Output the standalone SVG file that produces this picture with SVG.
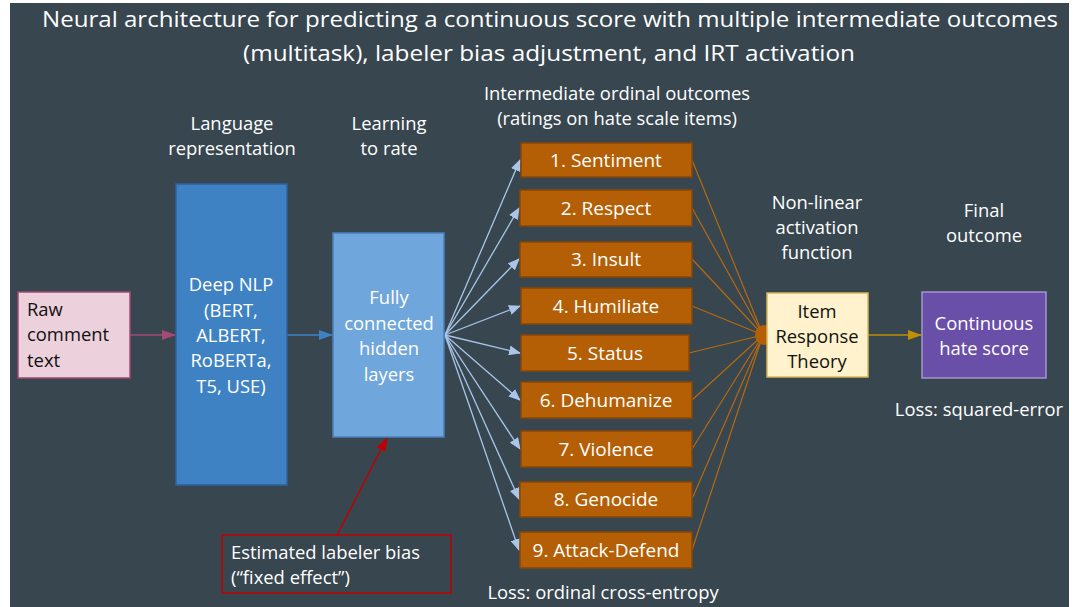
<svg xmlns="http://www.w3.org/2000/svg" width="1078" height="607" viewBox="0 0 1078 607">
<style>
text{font-family:"Open Sans","Liberation Sans",sans-serif;font-size:18.4px;fill:#ffffff}
.c{text-anchor:middle}
.dk{fill:#111111}
.title{font-size:22.5px}
.bl{font-size:19px}
.ob{fill:#b45f06;stroke:#8a4604;stroke-width:1.5}
.fan{stroke:#a9c6ea;stroke-width:1.3;fill:none}
.org{stroke:#b8690e;stroke-width:1.2;fill:none}
</style>
<defs>
<marker id="aBlueL" markerWidth="12" markerHeight="10" refX="11" refY="5" orient="auto" markerUnits="userSpaceOnUse"><path d="M0,0 L12,5 L0,10 Z" fill="#a9c6ea"/></marker>
<marker id="aPink" markerWidth="14" markerHeight="10" refX="13" refY="5" orient="auto" markerUnits="userSpaceOnUse"><path d="M0,0 L14,5 L0,10 Z" fill="#a44a74"/></marker>
<marker id="aBlue" markerWidth="14" markerHeight="10" refX="13" refY="5" orient="auto" markerUnits="userSpaceOnUse"><path d="M0,0 L14,5 L0,10 Z" fill="#3f82c4"/></marker>
<marker id="aGold" markerWidth="14" markerHeight="10" refX="13" refY="5" orient="auto" markerUnits="userSpaceOnUse"><path d="M0,0 L14,5 L0,10 Z" fill="#bf9000"/></marker>
<marker id="aRed" markerWidth="14" markerHeight="10" refX="13" refY="5" orient="auto" markerUnits="userSpaceOnUse"><path d="M0,0 L14,5 L0,10 Z" fill="#c00000"/></marker>
</defs>
<rect x="0" y="0" width="1078" height="607" fill="#ffffff"/>
<rect x="10" y="3" width="1059" height="604" fill="#37464f"/>

<g id="title">
<text class="c title" x="550" y="27" textLength="1016" lengthAdjust="spacingAndGlyphs">Neural architecture for predicting a continuous score with multiple intermediate outcomes</text>
<text class="c title" x="549" y="61" textLength="612" lengthAdjust="spacingAndGlyphs">(multitask), labeler bias adjustment, and IRT activation</text>
</g>

<g id="headers">
<text class="c" x="232" y="130">Language</text>
<text class="c" x="232" y="155">representation</text>
<text class="c" x="389" y="130">Learning</text>
<text class="c" x="389" y="155">to rate</text>
<text class="c" x="617" y="100">Intermediate ordinal outcomes</text>
<text class="c" x="617" y="125">(ratings on hate scale items)</text>
<text class="c" x="817" y="209">Non-linear</text>
<text class="c" x="817" y="234">activation</text>
<text class="c" x="817" y="259">function</text>
<text class="c" x="984" y="217">Final</text>
<text class="c" x="984" y="242">outcome</text>
<text class="c" x="979" y="416">Loss: squared-error</text>
<text class="c" x="603" y="599">Loss: ordinal cross-entropy</text>
</g>

<g id="connectors">
<line x1="130" y1="335" x2="175" y2="335" stroke="#a44a74" stroke-width="1.5" marker-end="url(#aPink)"/>
<line x1="287" y1="335" x2="332" y2="335" stroke="#3f82c4" stroke-width="1.5" marker-end="url(#aBlue)"/>
<line x1="337" y1="535" x2="387" y2="438" stroke="#c00000" stroke-width="1.5" marker-end="url(#aRed)"/>
<line class="fan" x1="445" y1="335" x2="520" y2="160" marker-end="url(#aBlueL)"/>
<line class="fan" x1="445" y1="335" x2="519" y2="208" marker-end="url(#aBlueL)"/>
<line class="fan" x1="445" y1="335" x2="519" y2="259" marker-end="url(#aBlueL)"/>
<line class="fan" x1="445" y1="335" x2="520" y2="306" marker-end="url(#aBlueL)"/>
<line class="fan" x1="445" y1="335" x2="520" y2="353" marker-end="url(#aBlueL)"/>
<line class="fan" x1="445" y1="335" x2="520" y2="400" marker-end="url(#aBlueL)"/>
<line class="fan" x1="445" y1="335" x2="520" y2="449" marker-end="url(#aBlueL)"/>
<line class="fan" x1="445" y1="335" x2="519" y2="499" marker-end="url(#aBlueL)"/>
<line class="fan" x1="445" y1="335" x2="519" y2="550" marker-end="url(#aBlueL)"/>
<line class="org" x1="692" y1="160" x2="763" y2="335"/>
<line class="org" x1="692" y1="208" x2="763" y2="335"/>
<line class="org" x1="692" y1="259" x2="763" y2="335"/>
<line class="org" x1="692" y1="306" x2="763" y2="335"/>
<line class="org" x1="689" y1="353" x2="763" y2="335"/>
<line class="org" x1="692" y1="400" x2="763" y2="335"/>
<line class="org" x1="692" y1="449" x2="763" y2="335"/>
<line class="org" x1="692" y1="499" x2="763" y2="335"/>
<line class="org" x1="692" y1="550" x2="763" y2="335"/>
<ellipse cx="764" cy="335" rx="9" ry="10" fill="#b45f06"/>
<line x1="868" y1="335" x2="921" y2="335" stroke="#bf9000" stroke-width="1.5" marker-end="url(#aGold)"/>
</g>

<g id="raw">
<rect x="18" y="292" width="112" height="86" fill="#ecd0db" stroke="#a44a74" stroke-width="1.5"/>
<text class="dk" x="27" y="316">Raw</text>
<text class="dk" x="27" y="341">comment</text>
<text class="dk" x="27" y="367">text</text>
</g>

<g id="deepnlp">
<rect x="176" y="184" width="111" height="301" fill="#3f82c4" stroke="#2e62a0" stroke-width="1.5"/>
<text class="c" x="231" y="291">Deep NLP</text>
<text class="c" x="231" y="317">(BERT,</text>
<text class="c" x="231" y="342">ALBERT,</text>
<text class="c" x="231" y="367">RoBERTa,</text>
<text class="c" x="231" y="393">T5, USE)</text>
</g>

<g id="hidden">
<rect x="333" y="233" width="111" height="204" fill="#6fa6db" stroke="#4a7fbf" stroke-width="1.5"/>
<text class="c" x="389" y="304">Fully</text>
<text class="c" x="389" y="330">connected</text>
<text class="c" x="389" y="355">hidden</text>
<text class="c" x="389" y="381">layers</text>
</g>

<g id="bias">
<rect x="222" y="535" width="229" height="58" fill="none" stroke="#c00000" stroke-width="1.5"/>
<text x="231" y="559">Estimated labeler bias</text>
<text x="231" y="584">(“fixed effect”)</text>
</g>

<g id="item1"><rect class="ob" x="521" y="143" width="171" height="34"/><text class="c bl" x="606" y="167">1. Sentiment</text></g>
<g id="item2"><rect class="ob" x="520" y="190" width="172" height="36"/><text class="c bl" x="606" y="215">2. Respect</text></g>
<g id="item3"><rect class="ob" x="520" y="242" width="172" height="35"/><text class="c bl" x="606" y="266">3. Insult</text></g>
<g id="item4"><rect class="ob" x="521" y="288" width="171" height="36"/><text class="c bl" x="606" y="313">4. Humiliate</text></g>
<g id="item5"><rect class="ob" x="521" y="335" width="168" height="36"/><text class="c bl" x="605" y="360">5. Status</text></g>
<g id="item6"><rect class="ob" x="521" y="382" width="171" height="36"/><text class="c bl" x="606" y="407">6. Dehumanize</text></g>
<g id="item7"><rect class="ob" x="521" y="431" width="171" height="36"/><text class="c bl" x="606" y="456">7. Violence</text></g>
<g id="item8"><rect class="ob" x="520" y="482" width="172" height="35"/><text class="c bl" x="606" y="506">8. Genocide</text></g>
<g id="item9"><rect class="ob" x="520" y="532" width="172" height="36"/><text class="c bl" x="606" y="557">9. Attack-Defend</text></g>

<g id="irt">
<rect x="767" y="293" width="101" height="84" fill="#fff2cc" stroke="#d6b656" stroke-width="1.5"/>
<text class="c dk" x="817" y="318">Item</text>
<text class="c dk" x="817" y="343">Response</text>
<text class="c dk" x="817" y="368">Theory</text>
</g>

<g id="score">
<rect x="922" y="292" width="124" height="86" fill="#6a4fa8" stroke="#a594cf" stroke-width="1.5"/>
<text class="c" x="984" y="330">Continuous</text>
<text class="c" x="984" y="355">hate score</text>
</g>
</svg>
